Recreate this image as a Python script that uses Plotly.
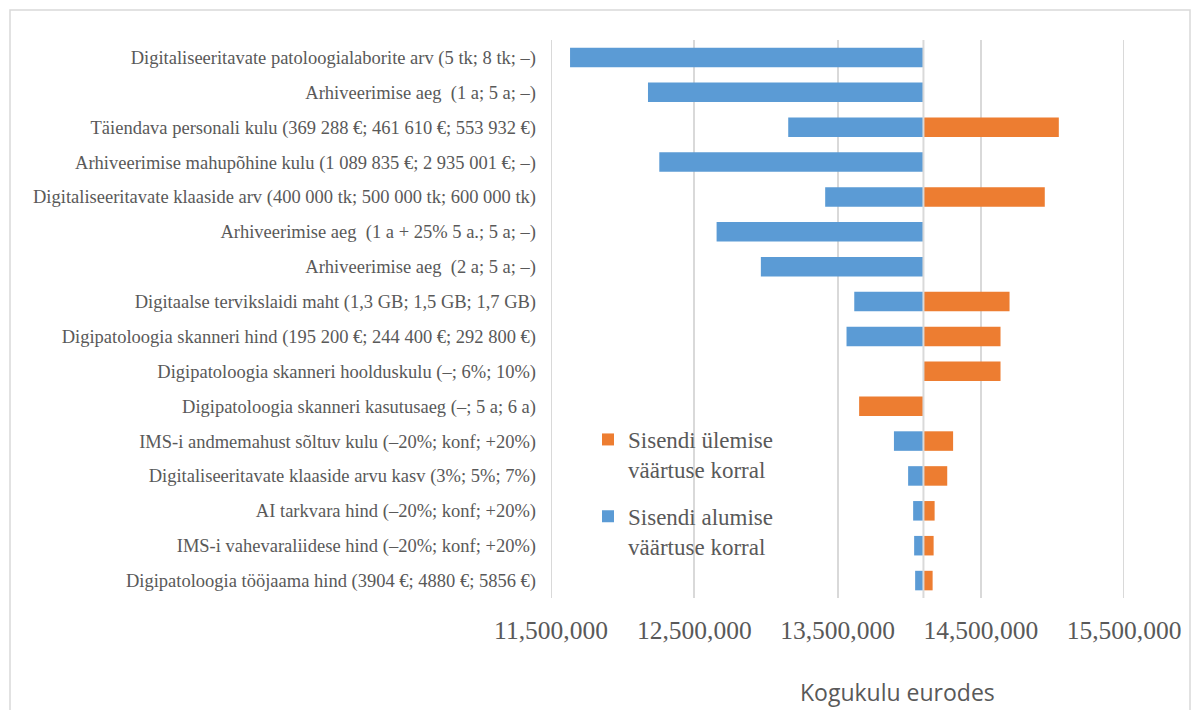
import plotly.graph_objects as go

# Sensitivity (tornado) chart of the total cost in euros
categories = [
    "Digitaliseeritavate patoloogialaborite arv (5 tk; 8 tk; –)",
    "Arhiveerimise aeg  (1 a; 5 a; –)",
    "Täiendava personali kulu (369 288 €; 461 610 €; 553 932 €)",
    "Arhiveerimise mahupõhine kulu (1 089 835 €; 2 935 001 €; –)",
    "Digitaliseeritavate klaaside arv (400 000 tk; 500 000 tk; 600 000 tk)",
    "Arhiveerimise aeg  (1 a + 25% 5 a.; 5 a; –)",
    "Arhiveerimise aeg  (2 a; 5 a; –)",
    "Digitaalse tervikslaidi maht (1,3 GB; 1,5 GB; 1,7 GB)",
    "Digipatoloogia skanneri hind (195 200 €; 244 400 €; 292 800 €)",
    "Digipatoloogia skanneri hoolduskulu (–; 6%; 10%)",
    "Digipatoloogia skanneri kasutusaeg (–; 5 a; 6 a)",
    "IMS-i andmemahust sõltuv kulu (–20%; konf; +20%)",
    "Digitaliseeritavate klaaside arvu kasv (3%; 5%; 7%)",
    "AI tarkvara hind (–20%; konf; +20%)",
    "IMS-i vahevaraliidese hind (–20%; konf; +20%)",
    "Digipatoloogia tööjaama hind (3904 €; 4880 €; 5856 €)",
]

base_cost = 14_100_000

# Total cost when the input takes its lower value
low_value_cost = [
    11_633_000, 12_177_000, 13_156_000, 12_256_000, 13_414_000, 12_656_000,
    12_965_000, 13_617_000, 13_563_000, None, None, 13_894_000, 13_993_000,
    14_028_000, 14_035_000, 14_042_000,
]

# Total cost when the input takes its upper value
high_value_cost = [
    None, None, 15_045_000, None, 14_947_000, None, None, 14_701_000,
    14_638_000, 14_638_000, 13_651_000, 14_307_000, 14_266_000, 14_178_000,
    14_171_000, 14_164_000,
]

x_ticks = [11_500_000, 12_500_000, 13_500_000, 14_500_000, 15_500_000]

series_names = ["Sisendi ülemise<br>väärtuse korral", "Sisendi alumise<br>väärtuse korral"]
axis_title = "Kogukulu eurodes"

BLUE = "#5B9BD5"
ORANGE = "#ED7D31"
TEXT = "#595959"
GRID = "#D9D9D9"
SERIF = "Liberation Serif, Times New Roman, serif"

PLOT_L, PLOT_R, PLOT_T, PLOT_B = 551, 1124, 40, 598
PW, PH = PLOT_R - PLOT_L, PLOT_B - PLOT_T


def px_x(px):
    return (px - PLOT_L) / PW


def px_y(py):
    return (PLOT_B - py) / PH


def offsets(values):
    return [None if v is None else v - base_cost for v in values]


fig = go.Figure()
fig.add_trace(go.Bar(
    y=categories, x=offsets(high_value_cost), base=base_cost,
    orientation="h", name=series_names[0], legendgroup="high",
    marker_color=ORANGE, marker_line_width=0, width=0.56,
))
fig.add_trace(go.Bar(
    y=categories, x=offsets(low_value_cost), base=base_cost,
    orientation="h", name=series_names[1], legendgroup="low",
    marker_color=BLUE, marker_line_width=0, width=0.56,
))

# gridlines at both ends of the value range
for edge in (x_ticks[0], x_ticks[-1]):
    fig.add_shape(type="line", xref="x", yref="paper", x0=edge, x1=edge,
                  y0=0, y1=1, line=dict(color=GRID, width=2), layer="below")

# vertical axis line at the base cost
fig.add_shape(type="line", xref="x", yref="paper", x0=base_cost, x1=base_cost,
              y0=0, y1=1, line=dict(color=GRID, width=2), layer="above")

# outer chart border
fig.add_shape(type="rect", xref="paper", yref="paper",
              x0=px_x(10), x1=px_x(1190), y0=px_y(720), y1=px_y(10),
              line=dict(color=GRID, width=1.5), layer="below")

fig.add_annotation(text=axis_title, xref="paper", yref="paper",
                   x=px_x(897), y=px_y(692),
                   xanchor="center", yanchor="middle", showarrow=False,
                   font=dict(family="Open Sans, sans-serif", size=23, color=TEXT))

fig.update_layout(
    width=1200, height=710,
    margin=dict(l=PLOT_L, r=1200 - PLOT_R, t=PLOT_T, b=710 - PLOT_B),
    paper_bgcolor="white", plot_bgcolor="white",
    barmode="overlay",
    showlegend=True,
    legend=dict(
        x=px_x(588), y=px_y(418),
        xanchor="left", yanchor="top",
        font=dict(family=SERIF, size=23, color=TEXT),
        bgcolor="rgba(0,0,0,0)", tracegroupgap=14,
        traceorder="grouped", valign="top",
    ),
    xaxis=dict(
        range=[x_ticks[0], x_ticks[-1]],
        tickvals=x_ticks, tickformat=",",
        showgrid=True, gridcolor=GRID, gridwidth=2,
        zeroline=False, showline=False, ticks="",
        tickfont=dict(family=SERIF, size=25.5, color=TEXT),
        ticklabelstandoff=14,
    ),
    yaxis=dict(
        autorange="reversed", showgrid=False, zeroline=False,
        showline=False, ticks="",
        tickfont=dict(family=SERIF, size=18.5, color=TEXT),
        ticklabelstandoff=14,
    ),
)

fig.write_html("out.html")
